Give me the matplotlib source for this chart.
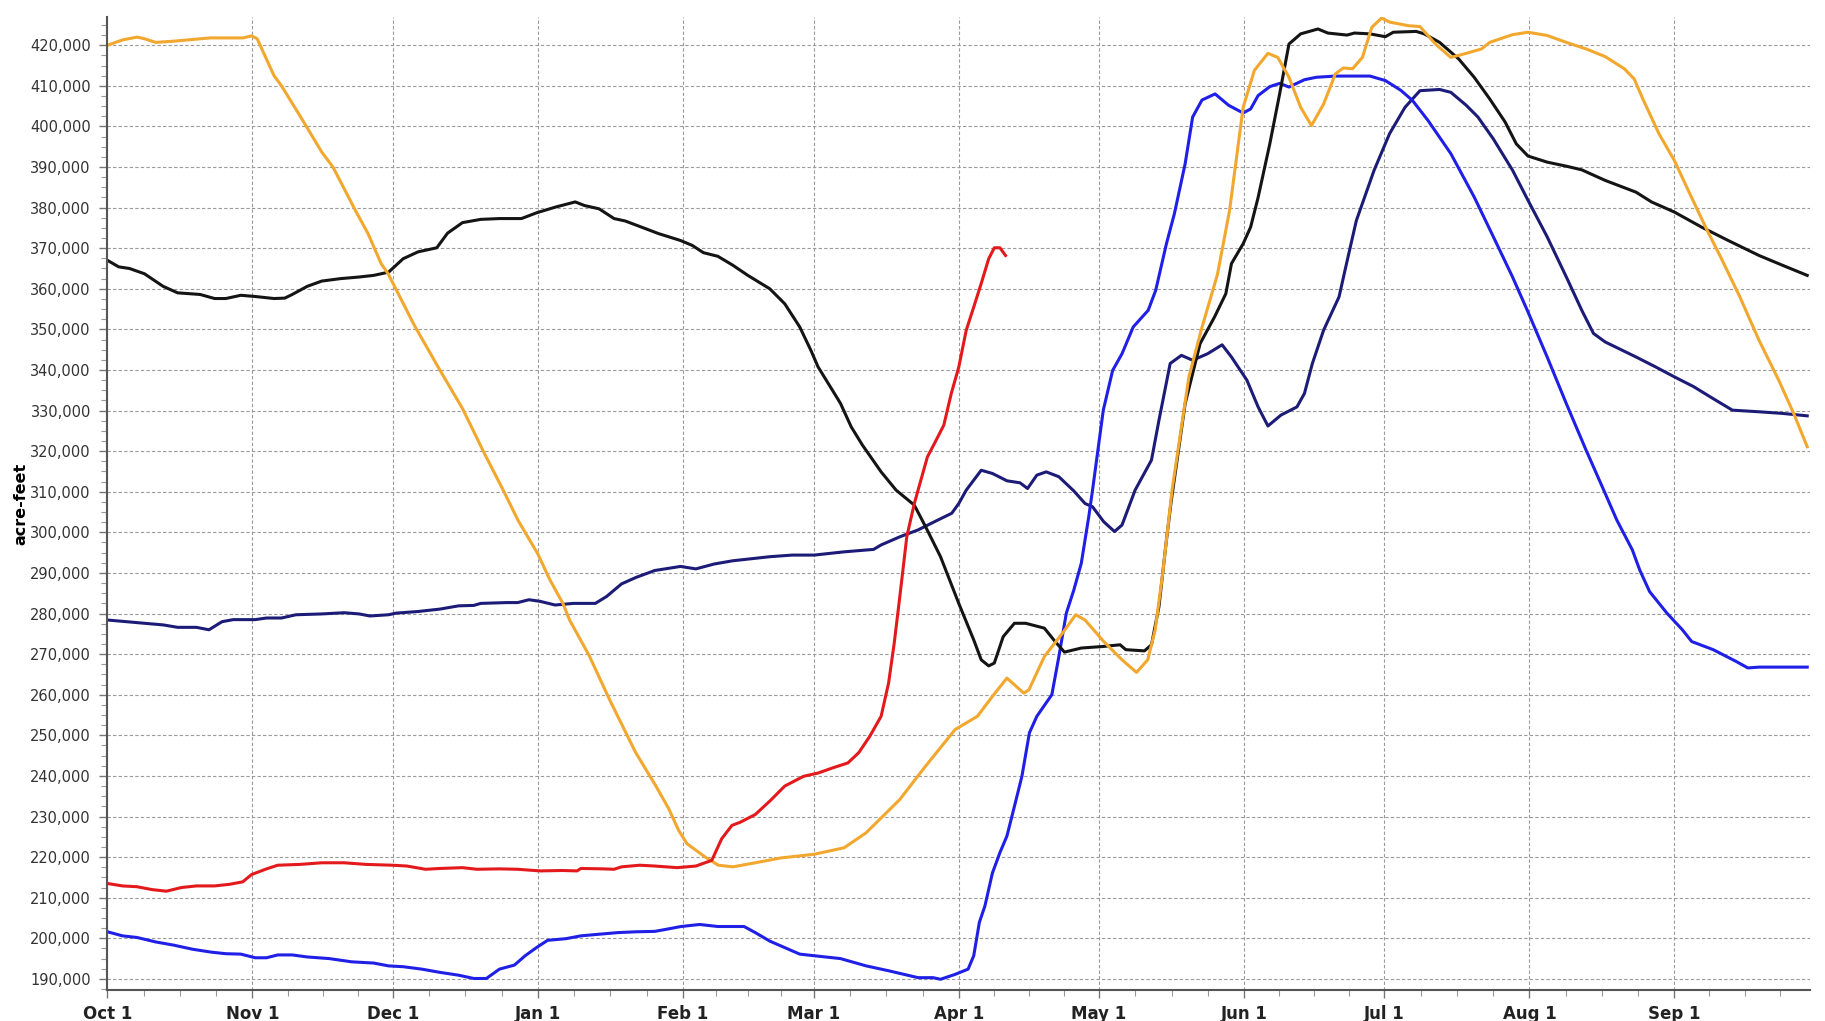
import matplotlib.pyplot as plt
from matplotlib.ticker import FixedLocator, FuncFormatter, MultipleLocator

# day of water year (0 = Oct 1) and storage in thousand acre-feet
month_labels = ['Oct 1', 'Nov 1', 'Dec 1', 'Jan 1', 'Feb 1', 'Mar 1',
                'Apr 1', 'May 1', 'Jun 1', 'Jul 1', 'Aug 1', 'Sep 1']
month_days = [0, 31, 61, 92, 123, 151, 182, 212, 243, 273, 304, 335, 365]

orange_days = [0, 3.2, 6.3, 7.9, 10.3, 14.2, 19, 22, 29, 30.8, 32, 35.6, 37.2, 41.1, 45.8,
               48.2, 53, 55.7, 58.5, 60, 65.6, 71.1, 75.9, 80.6, 84.6, 87.8, 92, 94.5, 97.4,
               98.8, 103, 107.3, 110.8, 112.9, 117.2, 120, 122.1, 123.9, 127.8, 130.6, 133.7,
               138.5, 144, 151.1, 157.5, 162.2, 169.4, 174.9, 181.2, 186, 189.2, 192.3, 195.9,
               197, 200.3, 204.2, 207, 209, 213, 216.9, 220, 222.4, 224, 225.6, 227.6, 231.2,
               234, 237.3, 239.9, 242.8, 245.2, 248.1, 250.2, 252.6, 255.1, 257.4, 260, 262.5,
               264.2, 266.2, 268.3, 270.3, 272.4, 274.1, 278.2, 280.6, 283.9, 287.2, 290.5,
               293.8, 295.5, 300.4, 303.7, 307.8, 311.9, 316.1, 320.2, 324.3, 326.4, 328.4,
               331.7, 335, 338.3, 342, 344.9, 349, 353.1, 357.3, 360.5, 363.4]
orange_vals = [420.0, 421.3, 422.0, 421.6, 420.7, 421.0, 421.5, 421.8, 421.8, 422.3, 421.6,
               412.5, 410.0, 402.7, 393.7, 390.0, 379.3, 373.6, 366.2, 363.7, 351.0, 339.9,
               330.5, 319.4, 310.4, 302.9, 294.7, 288.5, 282.4, 278.4, 269.6, 258.9, 250.7,
               245.8, 237.6, 231.9, 226.6, 223.3, 220.0, 218.0, 217.6, 218.6, 219.8, 220.7,
               222.3, 226.0, 234.2, 242.4, 251.4, 254.7, 259.6, 264.1, 260.4, 261.2, 269.4,
               275.2, 279.7, 278.4, 273.1, 268.6, 265.5, 268.6, 276.0, 289.9, 310.4, 338.3,
               350.5, 363.5, 379.3, 404.7, 413.8, 418.0, 417.0, 412.1, 404.7, 400.2, 405.5,
               412.9, 414.4, 414.2, 417.0, 424.4, 426.7, 425.7, 424.8, 424.6, 420.3, 417.0,
               418.0, 419.1, 420.7, 422.6, 423.2, 422.4, 420.7, 419.1, 417.2, 414.2, 411.7,
               406.4, 398.2, 391.6, 383.4, 374.4, 367.8, 358.0, 347.3, 337.5, 329.3, 321.1]

black_days = [0, 2.4, 4.7, 7.9, 11.9, 15, 19.8, 22.9, 25.3, 28.5, 31.6, 35.6, 37.9, 39.5,
              42.7, 45.8, 49.8, 53.8, 56.9, 60.1, 63.2, 66.4, 70.4, 72.7, 75.9, 79.8, 83.8,
              88.5, 91.7, 95.7, 100, 102, 105.1, 108.3, 110.7, 114.6, 117.8, 122.5, 125,
              127.4, 130.5, 133.7, 136.9, 141.6, 144.8, 148, 150.4, 151.9, 156.7, 159, 161.4,
              165.4, 168.6, 172.5, 174.9, 178.1, 182, 185.2, 186.8, 188.4, 189.6, 191.5, 193.9,
              196.3, 200.3, 202.6, 204.6, 208.2, 213, 216.5, 217.7, 221.7, 223.2, 224.8, 226.4,
              227.4, 230.4, 233.6, 236.7, 239.1, 240.3, 242.8, 244.4, 246, 248.5, 250.6, 252.6,
              255.1, 258.8, 260.9, 265, 266.6, 269.9, 273.2, 274.9, 279.8, 281.5, 284.8, 288.9,
              292.2, 295.5, 298.8, 301.2, 303.7, 307.8, 311.9, 315.2, 320.2, 326.8, 330.1, 335,
              340.8, 346.5, 353.1, 358.1, 363.4]
black_vals = [367.0, 365.4, 365.0, 363.7, 360.6, 359.0, 358.6, 357.6, 357.6, 358.4, 358.1,
              357.6, 357.7, 358.6, 360.6, 361.9, 362.5, 362.9, 363.3, 364.1, 367.4, 369.1,
              370.1, 373.7, 376.3, 377.1, 377.3, 377.3, 378.7, 380.1, 381.4, 380.5, 379.7,
              377.3, 376.7, 375.0, 373.6, 371.9, 370.7, 368.9, 368.0, 365.8, 363.3, 360.0,
              356.3, 350.6, 344.8, 340.8, 331.8, 326.0, 321.5, 314.9, 310.4, 306.7, 301.4,
              294.0, 282.5, 273.5, 268.6, 267.1, 267.8, 274.3, 277.6, 277.6, 276.4, 273.1,
              270.5, 271.5, 271.9, 272.3, 271.1, 270.8, 272.3, 281.7, 298.1, 307.5, 331.7,
              346.5, 353.1, 358.8, 366.2, 371.1, 375.2, 382.5, 395.7, 408.0, 420.3, 422.8,
              424.0, 423.0, 422.5, 423.0, 422.8, 422.1, 423.2, 423.4, 422.8, 420.7, 416.6,
              412.1, 406.8, 401.1, 395.7, 392.7, 391.2, 390.2, 389.3, 386.7, 383.8, 381.4,
              378.9, 375.2, 371.9, 368.2, 365.8, 363.3]

navy_days = [0, 4, 7.9, 11.9, 15, 19, 21.7, 24.5, 26.9, 31.6, 34, 37.2, 40.3, 45.8, 50.6,
             53.8, 56.1, 60.1, 61.7, 66.4, 71.1, 75.1, 78.3, 79.8, 85.4, 87.7, 90.1, 92.5,
             95.7, 99.6, 104.3, 106.7, 109.9, 113, 117, 122.5, 125.8, 129.7, 133.7, 141.6,
             146.4, 151.1, 157.5, 163.8, 165.4, 169.4, 173.3, 177.3, 180.5, 182, 183.6, 186.8,
             189.2, 192.3, 195.1, 196.7, 198.7, 200.7, 203.4, 206.6, 209, 210.6, 213, 215.3,
             216.9, 219.7, 223.2, 224.8, 227.2, 229.6, 232, 235.2, 238.3, 240.3, 243.6, 246,
             248.1, 250.9, 254.3, 255.9, 257.6, 260, 263.3, 264.9, 267, 270.8, 274.1, 277.4,
             280.6, 284.8, 287.2, 290.5, 293, 296.3, 300.4, 303.7, 307.8, 311.9, 315.2, 317.7,
             320.2, 326.8, 330.9, 335, 339.1, 343.2, 347.4, 353.1, 358.1, 363.4]
navy_vals = [278.4, 278.0, 277.6, 277.2, 276.6, 276.6, 276.0, 278.0, 278.5, 278.5, 278.9,
             278.9, 279.7, 279.9, 280.2, 279.9, 279.4, 279.7, 280.1, 280.5, 281.1, 281.9,
             282.0, 282.5, 282.7, 282.7, 283.4, 283.0, 282.1, 282.5, 282.5, 284.2, 287.3,
             288.9, 290.6, 291.6, 291.0, 292.2, 293.0, 294.0, 294.4, 294.4, 295.2, 295.8,
             296.9, 298.9, 300.6, 302.9, 304.7, 307.1, 310.4, 315.3, 314.5, 312.7, 312.2,
             310.8, 314.1, 314.9, 313.7, 310.2, 307.1, 306.3, 302.6, 300.2, 301.8, 310.4,
             317.8, 327.6, 341.6, 343.6, 342.4, 344.0, 346.2, 343.2, 337.5, 330.9, 326.2,
             328.9, 330.9, 334.2, 341.6, 349.8, 358.0, 366.2, 376.8, 389.2, 398.2, 404.7,
             408.8, 409.1, 408.4, 405.2, 402.3, 396.9, 389.2, 381.8, 372.8, 362.9, 354.7,
             349.0, 346.9, 343.2, 340.8, 338.3, 335.9, 333.0, 330.1, 329.7, 329.3, 328.7]

blue_days = [0, 3.2, 6.3, 10.3, 14.2, 18.2, 22.1, 25.3, 28.5, 31.6, 34, 36.4, 39.5, 42.7,
             47.4, 52.2, 56.9, 60.1, 63.2, 67.2, 71.1, 75.1, 78.3, 81, 83.8, 87, 89.3, 91.7,
             94.1, 98, 101.2, 105.1, 109.1, 113, 117, 119.4, 122.6, 126.6, 130.5, 136.1,
             138.5, 141.6, 148, 151.1, 156.7, 162.2, 167, 173.3, 176.5, 178.1, 181.2, 184,
             185.2, 186.4, 187.6, 189.2, 190.8, 192.3, 193.9, 195.5, 197.1, 198.7, 201.9,
             203.4, 205, 206.6, 208.2, 209.8, 210.6, 212.9, 214.9, 216.9, 219.3, 222.5, 224.1,
             226.4, 228.1, 230.4, 232, 234, 236.8, 239.7, 242.8, 244.4, 246, 248.5, 250.6,
             252.6, 255.9, 258.4, 262.5, 269.9, 273.2, 276.5, 279, 282.3, 287.2, 292.2, 296.3,
             300.4, 303.7, 307.8, 311.9, 316.1, 320.2, 322.7, 326, 327.6, 329.7, 333.4, 336.7,
             338.7, 343.3, 348.2, 350.7, 353.1, 363.4]
blue_vals = [201.6, 200.6, 200.2, 199.1, 198.3, 197.3, 196.6, 196.2, 196.1, 195.2, 195.2,
             195.9, 195.9, 195.4, 195.0, 194.2, 193.9, 193.2, 193.0, 192.4, 191.6, 190.9,
             190.1, 190.1, 192.4, 193.4, 195.7, 197.7, 199.5, 199.9, 200.6, 201.0, 201.4,
             201.6, 201.7, 202.2, 202.9, 203.4, 202.9, 202.9, 201.4, 199.3, 196.1, 195.7,
             195.0, 193.2, 192.0, 190.3, 190.3, 189.9, 191.1, 192.4, 195.7, 203.9, 208.0,
             216.1, 221.1, 225.2, 232.5, 239.9, 250.6, 254.7, 260.0, 269.4, 280.1, 285.8,
             292.4, 303.9, 310.4, 330.1, 339.9, 344.0, 350.6, 354.7, 359.6, 371.1, 378.5,
             390.8, 402.3, 406.5, 408.0, 405.2, 403.3, 404.3, 407.6, 409.8, 410.6, 409.7,
             411.5, 412.1, 412.4, 412.4, 411.3, 408.9, 406.4, 401.5, 393.3, 382.6, 372.8,
             362.9, 354.3, 343.2, 331.7, 320.3, 309.6, 303.0, 295.7, 290.7, 285.4, 280.1,
             276.0, 273.1, 271.1, 268.2, 266.6, 266.8, 266.8]

red_days = [0, 3.2, 6.3, 9.5, 12.6, 15.8, 19, 22.9, 26.1, 28.9, 30.8, 34, 36.4, 41.1, 45.8,
            50.6, 55.3, 60.9, 64, 68, 71.1, 75.9, 79, 83.8, 87.7, 92.5, 97.2, 100.4, 101.2,
            106, 108.3, 109.9, 113.8, 117, 121.8, 125.8, 129.2, 131.3, 133.5, 135.3, 138.5,
            141.6, 144.8, 148.8, 151.9, 155.1, 158.3, 160.6, 163, 165.4, 167, 168.2, 169.4,
            170.9, 172.5, 173.3, 175.3, 176.8, 178.8, 180.4, 182, 183.6, 185.2, 186.8, 188.4,
            189.6, 190.8, 192]
red_vals = [213.5, 212.9, 212.7, 212.0, 211.6, 212.5, 212.9, 212.9, 213.3, 213.9, 215.7,
            217.1, 218.0, 218.2, 218.6, 218.6, 218.2, 218.0, 217.8, 217.0, 217.2, 217.4,
            217.0, 217.1, 217.0, 216.6, 216.7, 216.6, 217.2, 217.1, 217.0, 217.6, 218.0,
            217.8, 217.4, 217.8, 219.2, 224.5, 227.8, 228.6, 230.5, 233.8, 237.5, 239.9,
            240.7, 242.0, 243.2, 245.7, 249.8, 254.7, 262.9, 272.7, 284.2, 299.0, 307.1,
            310.4, 318.6, 321.9, 326.4, 334.2, 340.7, 349.8, 355.5, 361.3, 367.4, 370.1,
            370.1, 368.2]

series = [
    (navy_days, navy_vals, '#1c1c78'),
    (blue_days, blue_vals, '#1f1fe6'),
    (black_days, black_vals, '#141414'),
    (orange_days, orange_vals, '#f2a72e'),
    (red_days, red_vals, '#e3191c'),
]

fig = plt.figure(figsize=(18.25, 10.21), dpi=100)
ax = fig.add_axes([0.0589, 0.0304, 0.9329, 0.9529])

for days, vals, color in series:
    ax.plot(days, [v * 1000 for v in vals], color=color, lw=2.2, solid_joinstyle='round')

ax.set_xlim(0, 364)
ax.set_ylim(187270, 426940)

# month ticks, minor ticks split each month in four
ax.xaxis.set_major_locator(FixedLocator(month_days[:-1]))
ax.set_xticklabels(month_labels)
minor = []
for a, b in zip(month_days[:-1], month_days[1:]):
    minor += [a + (b - a) * k / 4 for k in (1, 2, 3)]
ax.xaxis.set_minor_locator(FixedLocator(minor))

ax.yaxis.set_major_locator(MultipleLocator(10000))
ax.yaxis.set_minor_locator(MultipleLocator(2500))
ax.yaxis.set_major_formatter(FuncFormatter(lambda v, p: f'{int(v):,}'))

ax.grid(True, which='major', color='#9a9a9a', linestyle=(0, (3, 2)), lw=0.8)
for s in ['top', 'right']:
    ax.spines[s].set_visible(False)
for s in ['left', 'bottom']:
    ax.spines[s].set_color('#555555')
    ax.spines[s].set_linewidth(1.5)

ax.tick_params(axis='both', which='major', length=6, color='#777777', width=1)
ax.tick_params(axis='both', which='minor', length=4, color='#999999', width=0.8)
ax.tick_params(axis='y', labelsize=10.5, labelcolor='#333333', pad=6)
ax.tick_params(axis='x', pad=5)
for lab in ax.get_xticklabels():
    lab.set_fontweight('bold')
    lab.set_fontsize(12)
    lab.set_color('#222222')

ax.set_ylabel('acre-feet', fontsize=11.5, fontweight='bold', labelpad=1)

plt.savefig('out.png', dpi=100)
